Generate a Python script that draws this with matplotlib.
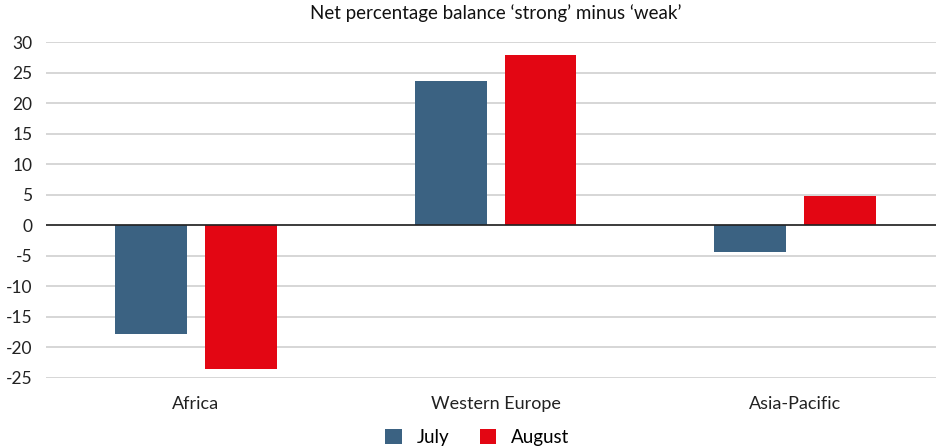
import numpy as np
import matplotlib.pyplot as plt

plt.rcParams['font.family'] = ['Lato', 'DejaVu Sans']

categories = ['Africa', 'Western Europe', 'Asia-Pacific']
july = [-17.9, 23.7, -4.3]
august = [-23.5, 27.9, 4.8]
yticks = [-25, -20, -15, -10, -5, 0, 5, 10, 15, 20, 25, 30]

fig = plt.figure(figsize=(9.36, 4.47), dpi=100)
ax = fig.add_axes([0.0494, 0.155, 0.96, 0.75])

x = np.arange(len(categories))
w = 0.24
off = 0.15
ax.bar(x - off, july, w, color='#3b6282', label='July', zorder=3)
ax.bar(x + off, august, w, color='#e30613', label='August', zorder=3)

ax.set_xlim(-0.5, 2.5)
ax.set_ylim(-25, 30)
ax.set_yticks(yticks)
ax.set_yticklabels([str(t) for t in yticks], fontsize=12.5, color='#222222')
ax.set_xticks(x)
ax.set_xticklabels(categories, fontsize=13, color='#222222')
ax.tick_params(axis='both', length=0)
ax.tick_params(axis='y', pad=10)
ax.tick_params(axis='x', pad=13)
ax.grid(axis='y', color='#d0d0d0', linewidth=1.2, zorder=0)
ax.axhline(0, color='#222222', linewidth=1.2, zorder=4)
for s in ax.spines.values():
    s.set_visible(False)

ax.set_title("Net percentage balance \u2018strong\u2019 minus \u2018weak\u2019", fontsize=13.5, pad=17, color='#111111')

fig.legend(*ax.get_legend_handles_labels(), loc='center', bbox_to_anchor=(0.51, 0.022), ncol=2, frameon=False,
           fontsize=13.5, handlelength=0.9, handleheight=0.9, columnspacing=1.6, handletextpad=0.8)

fig.savefig('out.png', dpi=100)
